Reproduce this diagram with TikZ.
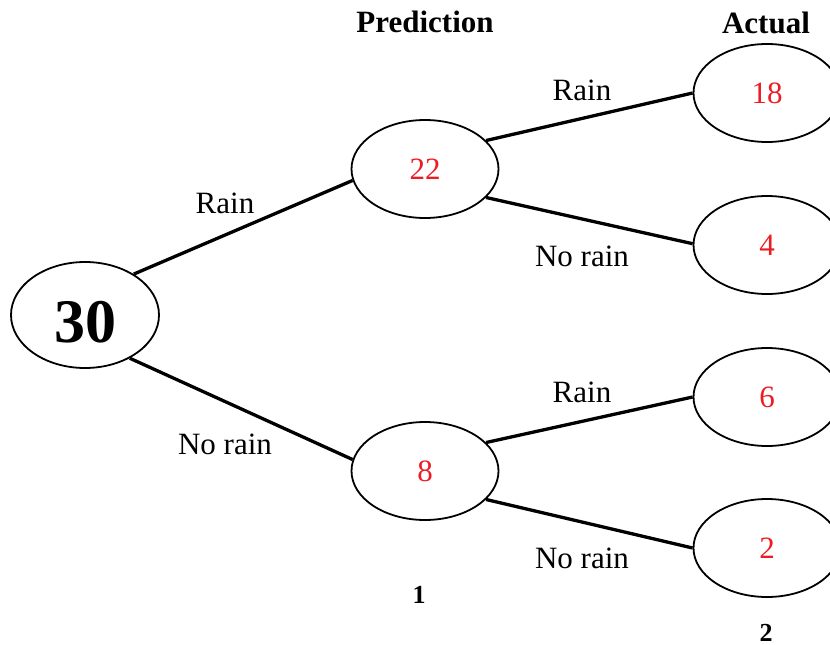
\documentclass[tikz,border=0pt]{standalone}
\usepackage{fontspec}
\setmainfont{Liberation Serif}
\usetikzlibrary{shapes.geometric}
\definecolor{numred}{RGB}{237,28,36}
\begin{document}
\begin{tikzpicture}[x=1pt,y=-1pt,
  oval/.style={draw, line width=1.8pt, ellipse, minimum width=147pt, minimum height=98pt, inner sep=0pt,
    text=numred, font=\fontsize{31}{36}\selectfont},
  lbl/.style={font=\fontsize{31}{36}\selectfont, anchor=base},
  head/.style={font=\fontsize{31}{36}\selectfont\bfseries, anchor=base},
  sub/.style={font=\fontsize{26}{32}\selectfont\bfseries, anchor=base},
  edge/.style={line width=3.3pt}]
\useasboundingbox (0,0) rectangle (830,645);
\clip (0,0) rectangle (830,645);
% nodes
\node[oval, minimum width=148pt, minimum height=106pt] (n30) at (85,315) {};
\node[font=\fontsize{62}{70}\selectfont\bfseries, anchor=base] (t30) at (85,342) {30};
\node[oval] (n22) at (425,169) {22};
\node[oval] (n8) at (425,471) {8};
\node[oval] (n18) at (767,93) {18};
\node[oval] (n4) at (767,245) {4};
\node[oval] (n6) at (767,397) {6};
\node[oval] (n2) at (767,548) {2};
% connectors
\draw[edge] (n30.40) -- (n22.189);
\draw[edge] (n30.-44) -- (n8.171);
\draw[edge] (n22.25) -- (n18.180);
\draw[edge] (n22.-25) -- (n4.179);
\draw[edge] (n8.25) -- (n6.180);
\draw[edge] (n8.-25) -- (n2.180);
% labels
\node[lbl] (l1) at (225,213) {Rain};
\node[lbl] (l2) at (225,454) {No rain};
\node[lbl] (l3) at (582,100) {Rain};
\node[lbl] (l4) at (582,266) {No rain};
\node[lbl] (l5) at (582,402) {Rain};
\node[lbl] (l6) at (582,568) {No rain};
\node[head] (h1) at (425,32) {Prediction};
\node[head] (h2) at (766,33) {Actual};
\node[sub] (s1) at (419,603) {1};
\node[sub] (s2) at (766,641) {2};
\end{tikzpicture}
\end{document}
